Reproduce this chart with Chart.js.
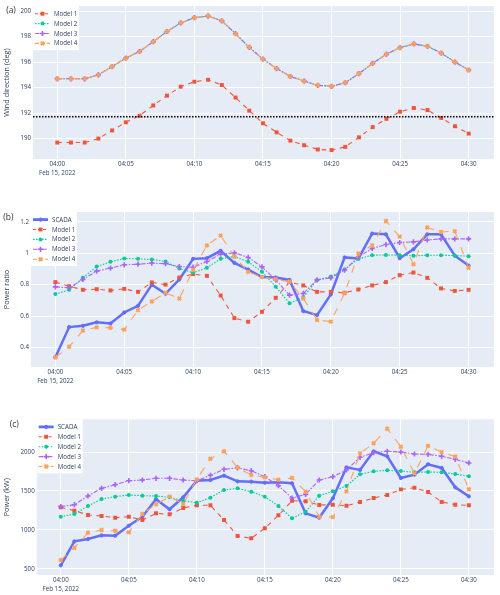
<!DOCTYPE html>
<html>
<head>
<meta charset="utf-8">
<script src="https://cdn.jsdelivr.net/npm/chart.js@4.4.0/dist/chart.umd.min.js"></script>
<style>
  html, body { margin: 0; padding: 0; background: #fff; }
  #wrap { position: relative; width: 500px; height: 595px; overflow: hidden; }
  canvas { position: absolute; left: 0; }
</style>
</head>
<body>
<div id="wrap">
  <canvas id="chartA" width="500" height="185" style="top:0px"></canvas>
  <canvas id="chartB" width="500" height="207" style="top:185px"></canvas>
  <canvas id="chartC" width="500" height="203" style="top:392px"></canvas>
</div>
<script>
'use strict';

// minutes after 04:00 on Feb 15, 2022
const minutes = [0, 1, 2, 3, 4, 5, 6, 7, 8, 9, 10, 11, 12, 13, 14, 15, 16, 17, 18, 19, 20, 21, 22, 23, 24, 25, 26, 27, 28, 29, 30];
const tickMinutes = [0, 5, 10, 15, 20, 25, 30];
const tickLabels = ['04:00', '04:05', '04:10', '04:15', '04:20', '04:25', '04:30'];
const dateLabel = 'Feb 15, 2022';

// (a) wind direction
const dirTicks = [190, 192, 194, 196, 198, 200];
const dirModel1 = [189.69, 189.69, 189.69, 190.0, 190.64, 191.28, 191.8, 192.6, 193.37, 194.07, 194.46, 194.61, 194.2, 193.22, 192.19, 191.2, 190.49, 189.84, 189.48, 189.15, 189.1, 189.35, 190.1, 190.9, 191.55, 192.11, 192.4, 192.24, 191.62, 190.97, 190.39];
const dirModel2 = [194.69, 194.69, 194.69, 195.0, 195.65, 196.31, 196.83, 197.6, 198.4, 199.07, 199.48, 199.61, 199.23, 198.22, 197.16, 196.23, 195.49, 194.87, 194.51, 194.18, 194.1, 194.38, 195.1, 195.9, 196.62, 197.14, 197.42, 197.24, 196.7, 196.0, 195.38];
const dirModel3 = [194.69, 194.69, 194.69, 195.0, 195.65, 196.31, 196.83, 197.6, 198.4, 199.07, 199.48, 199.61, 199.23, 198.22, 197.16, 196.23, 195.49, 194.87, 194.51, 194.18, 194.1, 194.38, 195.1, 195.9, 196.62, 197.14, 197.42, 197.24, 196.7, 196.0, 195.38];
const dirModel4 = [194.69, 194.69, 194.69, 195.0, 195.65, 196.31, 196.83, 197.6, 198.4, 199.07, 199.48, 199.61, 199.23, 198.22, 197.16, 196.23, 195.49, 194.87, 194.51, 194.18, 194.1, 194.38, 195.1, 195.9, 196.62, 197.14, 197.42, 197.24, 196.7, 196.0, 195.38];
const dirRefLine = 191.72;

// (b) power ratio
const ratioTicks = [0.4, 0.6, 0.8, 1, 1.2];
const ratioScada = [0.338, 0.530, 0.538, 0.56, 0.553, 0.623, 0.665, 0.80, 0.742, 0.833, 0.964, 0.968, 1.015, 0.938, 0.896, 0.848, 0.845, 0.83, 0.632, 0.606, 0.738, 0.973, 0.966, 1.125, 1.12, 0.968, 1.025, 1.12, 1.12, 0.984, 0.921];
const ratioModel1 = [0.816, 0.79, 0.767, 0.771, 0.763, 0.773, 0.754, 0.814, 0.80, 0.845, 0.867, 0.856, 0.731, 0.587, 0.564, 0.627, 0.716, 0.816, 0.795, 0.754, 0.754, 0.748, 0.769, 0.795, 0.816, 0.86, 0.877, 0.843, 0.776, 0.76, 0.767];
const ratioModel2 = [0.74, 0.767, 0.843, 0.915, 0.945, 0.966, 0.964, 0.96, 0.947, 0.903, 0.875, 0.907, 0.964, 0.979, 0.945, 0.882, 0.786, 0.681, 0.719, 0.83, 0.851, 0.896, 0.964, 0.987, 0.989, 0.987, 0.983, 0.987, 0.987, 0.985, 0.981];
const ratioModel3 = [0.786, 0.78, 0.833, 0.886, 0.905, 0.926, 0.93, 0.937, 0.933, 0.915, 0.911, 0.947, 0.994, 1.002, 0.973, 0.913, 0.83, 0.733, 0.744, 0.83, 0.843, 0.892, 0.977, 1.03, 1.055, 1.068, 1.072, 1.084, 1.091, 1.091, 1.091];
const ratioModel4 = [0.338, 0.405, 0.508, 0.528, 0.526, 0.514, 0.638, 0.693, 0.748, 0.712, 0.892, 1.049, 1.112, 0.977, 0.881, 0.848, 0.835, 0.818, 0.712, 0.575, 0.565, 0.744, 0.998, 1.05, 1.205, 1.105, 0.93, 1.163, 1.135, 1.14, 0.907];

// (c) power
const powerTicks = [500, 1000, 1500, 2000];
const powerScada = [545, 853, 883, 930, 926, 1054, 1170, 1393, 1265, 1419, 1632, 1641, 1697, 1624, 1620, 1607, 1611, 1599, 1213, 1157, 1406, 1804, 1770, 2010, 1946, 1667, 1710, 1843, 1796, 1547, 1431];
const powerModel1 = [1290, 1247, 1192, 1179, 1157, 1170, 1127, 1213, 1200, 1282, 1316, 1316, 1127, 922, 892, 1021, 1188, 1375, 1367, 1320, 1324, 1311, 1359, 1410, 1449, 1521, 1543, 1487, 1359, 1324, 1316];
const powerModel2 = [1170, 1204, 1307, 1397, 1427, 1449, 1440, 1436, 1419, 1375, 1350, 1414, 1513, 1534, 1491, 1427, 1307, 1149, 1234, 1440, 1496, 1564, 1714, 1753, 1766, 1757, 1740, 1744, 1740, 1718, 1689];
const powerModel3 = [1299, 1324, 1436, 1534, 1581, 1632, 1641, 1663, 1663, 1641, 1632, 1702, 1779, 1796, 1761, 1684, 1568, 1410, 1457, 1641, 1684, 1770, 1933, 1992, 2010, 2001, 1975, 1971, 1946, 1907, 1860];
const powerModel4 = [613, 771, 964, 999, 990, 969, 1204, 1329, 1427, 1333, 1650, 1915, 2010, 1800, 1706, 1676, 1645, 1668, 1491, 1170, 1165, 1495, 1984, 2113, 2300, 2069, 1727, 2080, 2000, 1941, 1522];

const X_MIN = -1.77, X_MAX = 31.84;
const FONT = "'Open Sans', 'Liberation Sans', sans-serif";
const TEXT = '#2a3f5f';

const styles = {
    'SCADA':   { color: '#636EFA', width: 2.5, dash: [],                   point: 'circle',   r: 1.6, pw: 1 },
    'Model 1': { color: '#EF553B', width: 1.1, dash: [4.6, 4.6],           point: 'rect',     r: 2.8, pw: 0 },
    'Model 2': { color: '#00CC96', width: 1.1, dash: [1.5, 1.5],           point: 'circle',   r: 2.0, pw: 0 },
    'Model 3': { color: '#AB63FA', width: 1.1, dash: [4.6, 1.5, 1.5, 1.5], point: 'cross',    r: 2.6, pw: 1.6 },
    'Model 4': { color: '#FFA15A', width: 1.1, dash: [7.7, 7.7],           point: 'crossRot', r: 2.4, pw: 2.1 }
};

function series(name, values, idx, total) {
    const s = styles[name];
    return {
        label: name,
        data: minutes.map((m, i) => ({ x: m, y: values[i] })),
        borderColor: s.color,
        backgroundColor: s.color,
        borderWidth: s.width,
        borderDash: s.dash,
        pointStyle: s.point,
        pointRadius: s.r,
        pointBorderWidth: s.pw,
        pointBackgroundColor: s.color,
        pointBorderColor: s.color,
        tension: 0,
        order: total - idx
    };
}

// plot background
const bgPlugin = {
    id: 'plotBg',
    beforeDraw(chart) {
        const a = chart.chartArea, ctx = chart.ctx;
        ctx.save();
        ctx.fillStyle = '#E5ECF6';
        ctx.fillRect(a.left, a.top, a.right - a.left, a.bottom - a.top);
        ctx.restore();
    }
};

// plotly style legend box in the top-left corner + panel letter
const overlayPlugin = {
    id: 'overlay',
    afterDraw(chart, args, opts) {
        const ctx = chart.ctx, a = chart.chartArea;
        const names = opts.names;
        const rowH = 9.9;
        const left = a.left, top = a.top;
        ctx.save();
        ctx.fillStyle = '#ffffff';
        ctx.fillRect(left, top, 46, names.length * rowH + 4.5);
        names.forEach((name, i) => {
            const s = styles[name];
            const y = top + 7.6 + i * rowH;
            ctx.strokeStyle = s.color;
            ctx.fillStyle = s.color;
            ctx.lineWidth = name === 'SCADA' ? s.width + 0.3 : s.width;
            ctx.setLineDash(name === 'Model 4' ? [4, 2] : (name === 'Model 1' ? [3, 2] : s.dash));
            ctx.beginPath();
            ctx.moveTo(left + 2, y);
            ctx.lineTo(left + 17, y);
            ctx.stroke();
            ctx.setLineDash([]);
            ctx.lineWidth = s.pw;
            Chart.helpers.drawPoint(ctx, { pointStyle: s.point, radius: s.r, rotation: 0, borderWidth: s.pw }, left + 9.5, y);
            ctx.fillStyle = TEXT;
            ctx.font = '6.2px ' + FONT;
            ctx.textAlign = 'left';
            ctx.textBaseline = 'middle';
            ctx.fillText(name, left + 21, y + 0.3);
        });
        ctx.fillStyle = '#333';
        ctx.font = '8.5px ' + FONT;
        ctx.textAlign = 'center';
        ctx.textBaseline = 'middle';
        ctx.fillText(opts.letter, opts.lx, opts.ly);
        ctx.restore();
    }
};

function makePanel(id, p) {
    return new Chart(document.getElementById(id), {
        type: 'line',
        data: { datasets: p.datasets },
        options: {
            responsive: false,
            animation: false,
            events: [],
            layout: { padding: { top: p.padTop, right: 4, bottom: 0, left: 0 } },
            plugins: {
                legend: { display: false },
                tooltip: { enabled: false },
                overlay: { names: p.legend, letter: p.letter, lx: p.lx, ly: p.ly }
            },
            scales: {
                x: {
                    type: 'linear',
                    min: X_MIN,
                    max: X_MAX,
                    afterBuildTicks: s => { s.ticks = tickMinutes.map(v => ({ value: v })); },
                    afterFit: s => { s.height = p.xHeight; },
                    grid: { color: '#ffffff', lineWidth: 1, drawTicks: false, tickLength: 0 },
                    border: { display: false },
                    ticks: {
                        autoSkip: false,
                        maxRotation: 0,
                        padding: 0.5,
                        color: TEXT,
                        font: { family: FONT, size: 6.2, lineHeight: 1.45 },
                        callback: v => {
                            const i = tickMinutes.indexOf(v);
                            return i === 0 ? [tickLabels[0], dateLabel] : tickLabels[i];
                        }
                    }
                },
                y: {
                    min: p.yMin,
                    max: p.yMax,
                    afterBuildTicks: s => { s.ticks = p.yTicks.map(v => ({ value: v })); },
                    afterFit: s => { s.width = p.yWidth; },
                    grid: { color: '#ffffff', lineWidth: 1, drawTicks: false, tickLength: 0 },
                    border: { display: false },
                    ticks: {
                        padding: 2,
                        color: TEXT,
                        font: { family: FONT, size: 6.2 },
                        callback: v => String(v)
                    },
                    title: {
                        display: true,
                        text: p.yTitle,
                        color: TEXT,
                        padding: { top: 2.6, bottom: 0 },
                        font: { family: FONT, size: 7.3 }
                    }
                }
            }
        },
        plugins: [bgPlugin, overlayPlugin]
    });
}

const modelNames = ['Model 1', 'Model 2', 'Model 3', 'Model 4'];
const allNames = ['SCADA'].concat(modelNames);

makePanel('chartA', {
    padTop: 4, xHeight: 26, yWidth: 33,
    yMin: 188.4, yMax: 200.39, yTicks: dirTicks,
    yTitle: 'Wind direction (deg)',
    letter: '(a)', lx: 11, ly: 10.7,
    legend: modelNames,
    datasets: [
        series('Model 1', dirModel1, 0, 4),
        series('Model 2', dirModel2, 1, 4),
        series('Model 3', dirModel3, 2, 4),
        series('Model 4', dirModel4, 3, 4),
        {
            label: 'ref',
            data: [{ x: X_MIN, y: dirRefLine }, { x: X_MAX, y: dirRefLine }],
            borderColor: '#000000',
            borderWidth: 1.5,
            borderDash: [1.5, 1.5],
            pointRadius: 0,
            order: -1
        }
    ]
});

makePanel('chartB', {
    padTop: 27, xHeight: 25, yWidth: 31,
    yMin: 0.276, yMax: 1.262, yTicks: ratioTicks,
    yTitle: 'Power ratio',
    letter: '(b)', lx: 8.3, ly: 32.3,
    legend: allNames,
    datasets: [
        series('SCADA', ratioScada, 0, 5),
        series('Model 1', ratioModel1, 1, 5),
        series('Model 2', ratioModel2, 2, 5),
        series('Model 3', ratioModel3, 3, 5),
        series('Model 4', ratioModel4, 4, 5)
    ]
});

makePanel('chartC', {
    padTop: 27.3, xHeight: 20, yWidth: 36.7,
    yMin: 421, yMax: 2421, yTicks: powerTicks,
    yTitle: 'Power (kW)',
    letter: '(c)', lx: 14.3, ly: 33,
    legend: allNames,
    datasets: [
        series('SCADA', powerScada, 0, 5),
        series('Model 1', powerModel1, 1, 5),
        series('Model 2', powerModel2, 2, 5),
        series('Model 3', powerModel3, 3, 5),
        series('Model 4', powerModel4, 4, 5)
    ]
});
</script>
</body>
</html>
